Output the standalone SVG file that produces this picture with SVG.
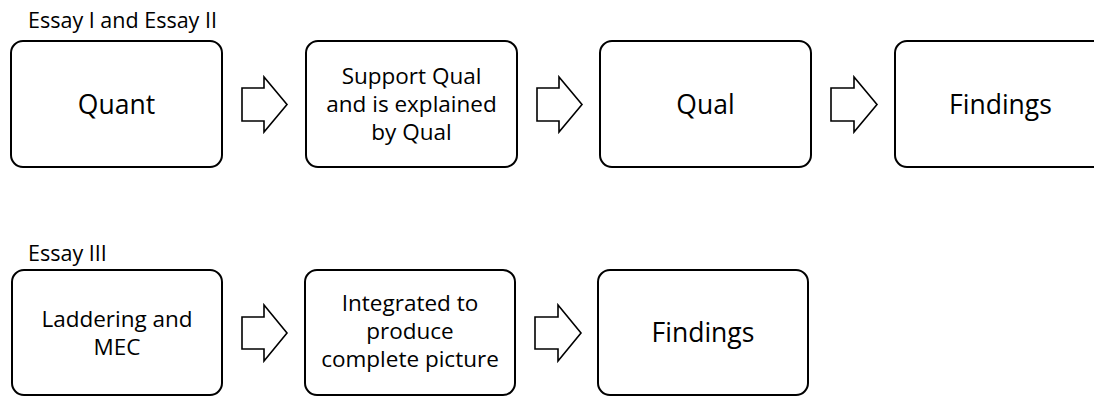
<svg xmlns="http://www.w3.org/2000/svg" width="1094" height="396" viewBox="0 0 1094 396">
<style>
.box{fill:#fff;stroke:#000;stroke-width:2}
.arr{fill:#fff;stroke:#000;stroke-width:1.6;stroke-linejoin:miter}
text{font-family:"Open Sans","Noto Sans",sans-serif;fill:#000;text-anchor:middle}
.big{font-size:26.5px}
.sm{font-size:22.5px}
.ttl{font-size:21.5px;text-anchor:start}
</style>
<rect width="1094" height="396" fill="#fff"/>
<text class="ttl" x="28" y="28">Essay I and Essay II</text>
<text class="ttl" x="28" y="261">Essay III</text>
<g id="n1"><rect class="box" x="11" y="41" width="211" height="126" rx="12"/><text class="big" x="116.5" y="114">Quant</text></g>
<g id="n2"><rect class="box" x="306" y="41" width="211" height="126" rx="12"/><text class="sm" x="411.5" y="84">Support Qual</text><text class="sm" x="411.5" y="112">and is explained</text><text class="sm" x="411.5" y="140">by Qual</text></g>
<g id="n3"><rect class="box" x="600" y="41" width="211" height="126" rx="12"/><text class="big" x="705.5" y="114">Qual</text></g>
<g id="n4"><rect class="box" x="895" y="41" width="211" height="126" rx="12"/><text class="big" x="1000.5" y="114">Findings</text></g>
<g id="n5"><rect class="box" x="12" y="270" width="210" height="125" rx="12"/><text class="sm" x="117" y="327">Laddering and</text><text class="sm" x="117" y="355">MEC</text></g>
<g id="n6"><rect class="box" x="305" y="270" width="210" height="125" rx="12"/><text class="sm" x="410" y="311">Integrated to</text><text class="sm" x="410" y="339">produce</text><text class="sm" x="410" y="367">complete picture</text></g>
<g id="n7"><rect class="box" x="598" y="270" width="210" height="125" rx="12"/><text class="big" x="703" y="342">Findings</text></g>
<g id="connectors">
<path class="arr" d="M242,88 H264 V77 L287,104.5 L264,132 V121 H242 Z"/>
<path class="arr" d="M537,88 H559 V77 L582,104.5 L559,132 V121 H537 Z"/>
<path class="arr" d="M831,88 H854 V77 L877,104.5 L854,132 V121 H831 Z"/>
<path class="arr" d="M242,317 H264 V305 L287,333 L264,361 V349 H242 Z"/>
<path class="arr" d="M535,317 H558 V305 L581,333 L558,361 V349 H535 Z"/>
</g>
</svg>
